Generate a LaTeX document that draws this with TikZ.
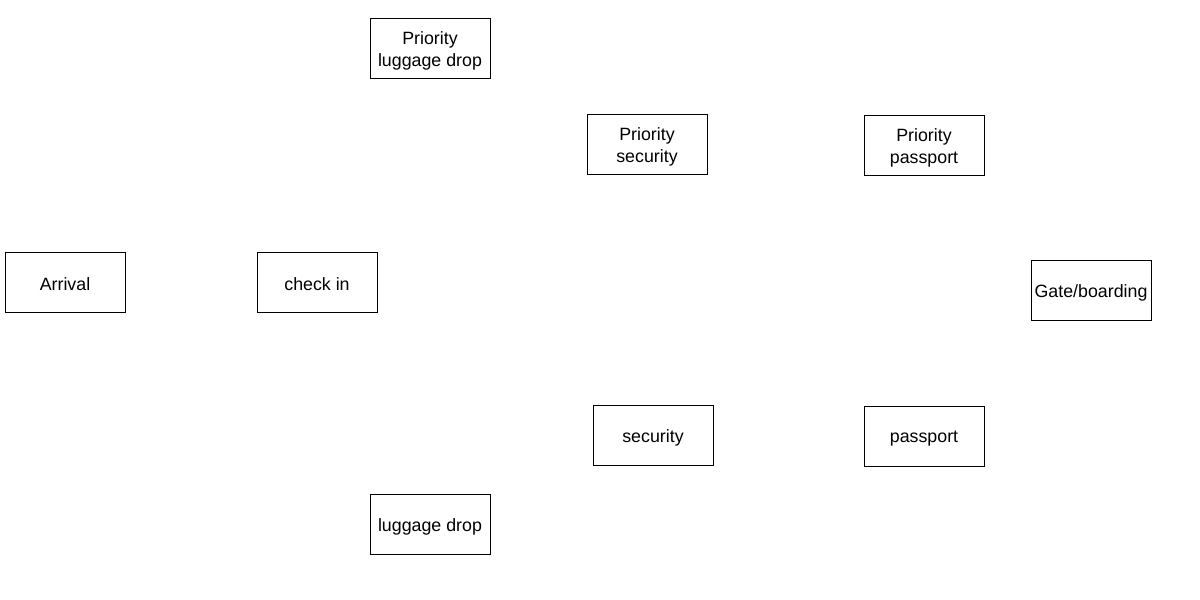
\documentclass[tikz,border=0pt]{standalone}
\usepackage{fontspec}
\setmainfont{Liberation Sans}
\usepackage{tikz}

\begin{document}
\begin{tikzpicture}[x=1pt, y=-1pt,
        stage/.style={draw, line width=0.8pt, minimum width=120pt, minimum height=60pt},
        stagetext/.style={inner sep=1pt, align=center, font=\fontsize{17.8}{22}\selectfont}]
    % Рамка рисунка
    \useasboundingbox (0,0) rectangle (1200,600);

    % Этапы
    \foreach \name/\x/\y/\label in {
        arrival/65/282/{Arrival},
        checkin/317/282/{check in},
        prioluggage/430/48/{Priority\\luggage drop},
        luggage/430/524/{luggage drop},
        priosecurity/647/144/{Priority\\security},
        security/653/435/{security},
        priopassport/924/145/{Priority\\passport},
        passport/924/436/{passport},
        gate/1091/290/{Gate/boarding}}
    {
        \node[stage] (\name) at (\x,\y) {};
        \node[stagetext] (\name-text) at ([yshift=-2.5pt]\name.center) {\label};
    }
\end{tikzpicture}
\end{document}
